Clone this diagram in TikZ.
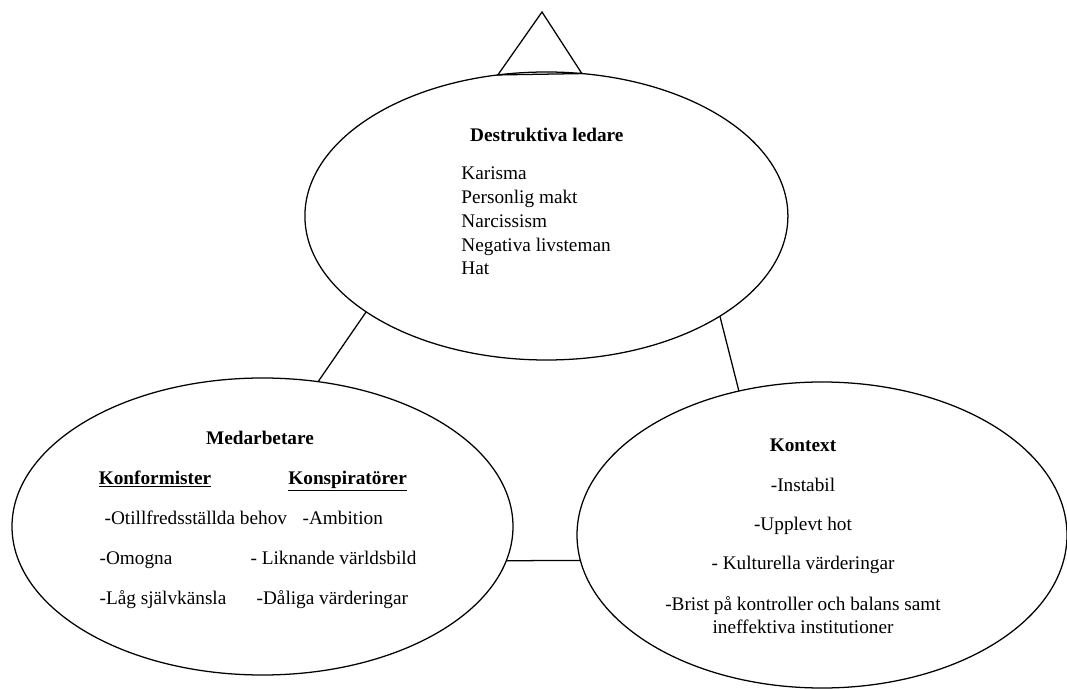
\documentclass[tikz,border=0pt]{standalone}
\usepackage{fontspec}
\setmainfont{Liberation Serif}
\usetikzlibrary{shapes.geometric}

\begin{document}
\begin{tikzpicture}[line width=.9pt,
    ring/.style={draw,ellipse,inner sep=0pt,outer sep=0pt},
    txt/.style={inner sep=0pt,font=\fontsize{13.7}{16.9}\selectfont},
    head/.style={txt,font=\fontsize{13.7}{16.9}\selectfont\bfseries}]
  \useasboundingbox (0,0) rectangle (26.675,17.2);

  \node[ring,minimum width=12.075cm,minimum height=7.2cm] (lead) at (13.66,11.8) {};
  \node[ring,minimum width=12.525cm,minimum height=7.425cm] (staff) at (6.5625,4.0375) {};
  \node[ring,minimum width=12.25cm,minimum height=7.65cm] (ctx) at (20.55,3.825) {};
  \coordinate (apex) at (13.55,16.9);

  \draw (lead.109) -- (apex) -- (lead.76) -- cycle;
  \draw (lead.208) -- (staff.69);
  \draw (lead.330) -- (ctx.120);
  \draw (staff.352) -- (ctx.186);

  % destruktiva ledare
  \node[head,anchor=base] (leadT) at (13.67,13.66) {Destruktiva ledare};
  \node[txt,anchor=west,align=left] (leadL) at (11.52,11.675)
    {Karisma\\Personlig makt\\Narcissism\\Negativa livsteman\\Hat};

  % medarbetare
  \node[head,anchor=base] (staffT) at (6.5,6.09) {Medarbetare};
  \node[head,anchor=base] (conf) at (3.875,5.09) {\underline{Konformister}};
  \node[head,anchor=base] (consp) at (8.69,5.09) {\underline{Konspiratörer}};
  \node[txt,anchor=base west] (conf1) at (2.6,4.09) {-Otillfredsställda behov};
  \node[txt,anchor=base west] (conf2) at (2.475,3.09) {-Omogna};
  \node[txt,anchor=base west] (conf3) at (2.475,2.09) {-Låg självkänsla};
  \node[txt,anchor=base west] (consp1) at (7.55,4.09) {-Ambition};
  \node[txt,anchor=base west] (consp2) at (6.25,3.09) {- Liknande världsbild};
  \node[txt,anchor=base west] (consp3) at (6.4,2.09) {-Dåliga värderingar};

  % kontext
  \node[head,anchor=base] (ctxT) at (20.075,5.91) {Kontext};
  \node[txt,anchor=base] (ctx1) at (20.075,4.91) {-Instabil};
  \node[txt,anchor=base] (ctx2) at (20.075,3.94) {-Upplevt hot};
  \node[txt,anchor=base] (ctx3) at (20.075,2.96) {- Kulturella värderingar};
  \node[txt,align=center] (ctx4) at (20.075,1.825)
    {-Brist på kontroller och balans samt\\ineffektiva institutioner};
\end{tikzpicture}
\end{document}
